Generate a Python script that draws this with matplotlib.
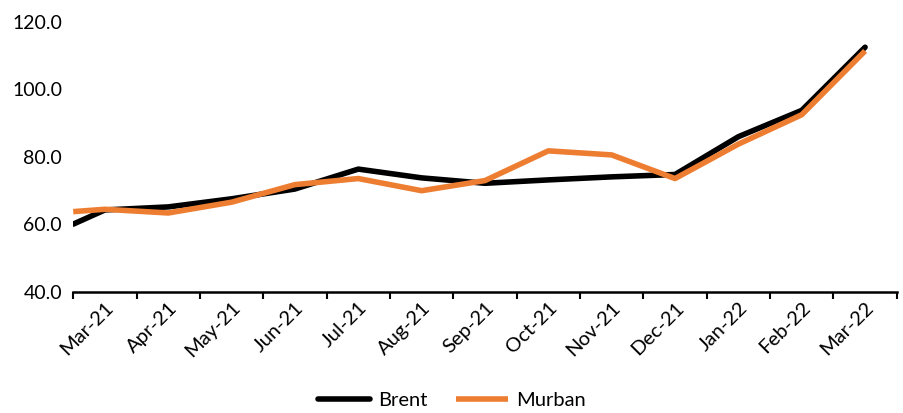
import numpy as np
import matplotlib
matplotlib.use("Agg")
import matplotlib.pyplot as plt

plt.rcParams['font.family'] = ['Lato', 'DejaVu Sans']

# monthly prices; the first value is where the line enters from the left edge
months = ["Mar-21", "Apr-21", "May-21", "Jun-21", "Jul-21", "Aug-21", "Sep-21",
          "Oct-21", "Nov-21", "Dec-21", "Jan-22", "Feb-22", "Mar-22"]
brent_start = 60.1
brent = [64.3, 65.2, 67.6, 70.5, 76.4, 73.8, 72.2, 73.2, 74.1, 74.8, 86.0, 93.8, 112.5]
murban_start = 63.8
murban = [64.5, 63.4, 66.6, 71.8, 73.6, 70.0, 73.0, 81.8, 80.6, 73.6, 83.8, 92.5, 111.4]

orange = '#ED7D31'

fig = plt.figure(figsize=(9.04, 4.13), dpi=100)
ax = fig.add_axes([0.081, 0.293, 0.911, 0.654])

x = np.arange(len(months))
xs = np.concatenate([[-0.5], x])
ax.plot(xs, [brent_start] + brent, color='black', lw=4, label='Brent',
        solid_joinstyle='round', solid_capstyle='round')
ax.plot(xs, [murban_start] + murban, color=orange, lw=4, label='Murban',
        solid_joinstyle='round', solid_capstyle='butt')

ax.set_xlim(-0.5, len(months) - 0.5)
ax.set_ylim(40, 120)
ax.set_yticks(np.arange(40, 121, 20))
ax.set_yticklabels([f"{v:.1f}" for v in np.arange(40, 121, 20)], fontsize=14)
ax.tick_params(axis='y', length=0, pad=8)

ax.set_xticks(x)
ax.set_xticklabels(months, fontsize=14.5, rotation=45, ha='right',
                   rotation_mode='anchor')
ax.set_xticks(np.arange(-0.5, len(months)), minor=True)
ax.tick_params(axis='x', which='major', length=0, pad=5)
ax.tick_params(axis='x', which='minor', length=5, width=1.5, direction='out')

for s in ['top', 'right', 'left']:
    ax.spines[s].set_visible(False)
ax.spines['bottom'].set_linewidth(1.8)

fig.legend(loc='lower center', bbox_to_anchor=(0.5, -0.035), ncol=2,
           frameon=False, fontsize=14.5, handlelength=2.6, handletextpad=0.4,
           columnspacing=1.4)

fig.savefig('out.png', dpi=100)
